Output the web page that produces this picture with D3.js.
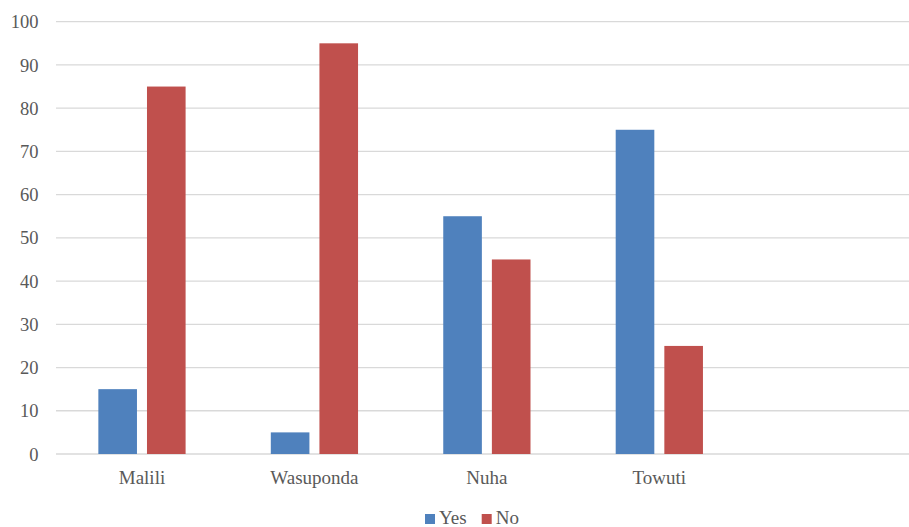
<!DOCTYPE html>
<html><head><meta charset="utf-8">
<script src="https://cdn.jsdelivr.net/npm/d3@7"></script>
<style>body{margin:0;background:#fff}svg{display:block}</style>
</head><body><svg id="c" width="909" height="527"></svg>
<script>
const categories = ["Malili", "Wasuponda", "Nuha", "Towuti", ""];
const seriesNames = ["Yes", "No"];
const yesValues = [15, 5, 55, 75, null];
const noValues = [85, 95, 45, 25, null];
const yTicks = [0, 10, 20, 30, 40, 50, 60, 70, 80, 90, 100];
const colors = ["#4f81bd", "#c0504d"];

const svg = d3.select("#c");
const font = "Liberation Serif";
const textColor = "#595959";

const x0 = d3.scaleBand().domain(categories).range([55.75, 918]).paddingInner(0).paddingOuter(0);
const x1 = d3.scaleBand().domain(seriesNames).range([0, x0.bandwidth()]).paddingInner(0.206).paddingOuter(0.876);
const y = d3.scaleLinear().domain([0, 100]).range([454, 21.7]);

// gridlines
svg.append("g").selectAll("line").data(yTicks).join("line")
  .attr("x1", 56).attr("x2", 909)
  .attr("y1", d => y(d)).attr("y2", d => y(d))
  .attr("stroke", "#d9d9d9").attr("stroke-width", 1.3);

// y axis labels
const yAxis = d3.axisLeft(y).tickValues(yTicks).tickSize(0).tickPadding(0);
const ya = svg.append("g").attr("transform", "translate(38.5,0)").call(yAxis);
ya.attr("font-family", font).attr("font-size", 18.5);
ya.select(".domain").remove();
ya.selectAll("text").attr("font-family", font).attr("font-size", 18.5).attr("fill", textColor).attr("dy", "0.33em");

// x axis labels
const xAxis = d3.axisBottom(x0).tickSize(0).tickPadding(0);
const xa = svg.append("g").attr("transform", "translate(0,470)").call(xAxis);
xa.attr("font-family", font).attr("font-size", 19);
xa.select(".domain").remove();
xa.selectAll("text").attr("font-family", font).attr("font-size", 19).attr("fill", textColor).attr("dy", "0.71em");

// bars
const rows = categories.map((c, i) => ({cat: c, vals: [yesValues[i], noValues[i]]}));
const groups = svg.append("g").selectAll("g").data(rows).join("g")
  .attr("transform", d => `translate(${x0(d.cat)},0)`);
groups.selectAll("rect").data(d => d.vals.map((v, j) => ({s: seriesNames[j], v, j})).filter(e => e.v != null))
  .join("rect")
  .attr("x", d => x1(d.s)).attr("width", x1.bandwidth())
  .attr("y", d => y(d.v)).attr("height", d => y(0) - y(d.v))
  .attr("fill", d => colors[d.j]);

// legend
const legend = svg.append("g").attr("font-family", font).attr("font-size", 19);
const legendItems = [{name: seriesNames[0], x: 425}, {name: seriesNames[1], x: 481.7}];
legendItems.forEach((it, i) => {
  legend.append("rect").attr("x", it.x).attr("y", 514).attr("width", 10).attr("height", 10).attr("fill", colors[i]);
  legend.append("text").attr("x", it.x + 14).attr("y", 524).text(it.name)
    .attr("font-family", font).attr("font-size", 19).attr("fill", textColor);
});
</script></body></html>
